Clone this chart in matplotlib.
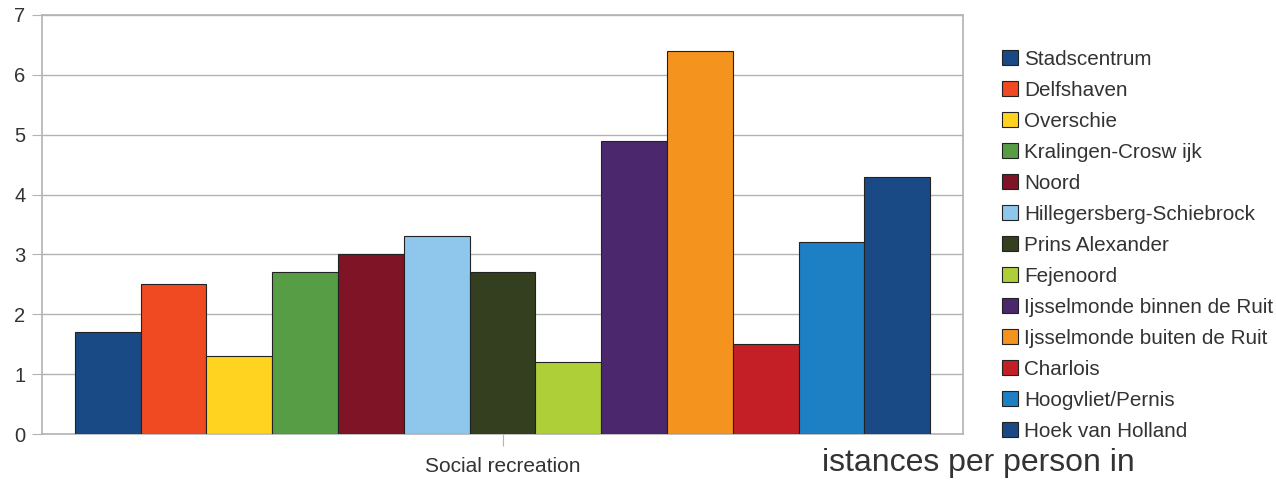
import numpy as np
import matplotlib.pyplot as plt

districts = ['Stadscentrum', 'Delfshaven', 'Overschie', 'Kralingen-Crosw ijk', 'Noord',
             'Hillegersberg-Schiebrock', 'Prins Alexander', 'Fejenoord',
             'Ijsselmonde binnen de Ruit', 'Ijsselmonde buiten de Ruit', 'Charlois',
             'Hoogvliet/Pernis', 'Hoek van Holland']
values = [1.7, 2.5, 1.3, 2.7, 3.0, 3.3, 2.7, 1.2, 4.9, 6.4, 1.5, 3.2, 4.3]
colors = ['#1a4a85', '#f04a23', '#ffd320', '#579d45', '#7e1426', '#8ec6ec',
          '#333f1e', '#aecf38', '#4b286e', '#f5931f', '#c41f26', '#1e80c4', '#1a4a85']
category = 'Social recreation'

plt.rcParams['font.family'] = ['Liberation Sans', 'DejaVu Sans']
txt = '#333333'

fig = plt.figure(figsize=(12.76, 4.8), dpi=100)
ax = fig.add_axes([42/1276, 46/480, 921/1276, 419/480])

w = 1/14
n = len(values)
for i in range(n):
    ax.bar((i - (n-1)/2)*w, values[i], width=w, color=colors[i],
           edgecolor='#222222', linewidth=0.8, label=districts[i], zorder=3)

ax.set_xlim(-0.5, 0.5)
ax.set_ylim(0, 7)
ax.set_yticks(range(8))
ax.yaxis.grid(True, color='#b3b3b3', linewidth=1, zorder=0)
ax.set_xticks([0])
ax.set_xticklabels([category], fontsize=15, color=txt)
ax.tick_params(axis='x', length=8.5, color='#b3b3b3', pad=8)
ax.tick_params(axis='y', length=7, color='#b3b3b3', labelsize=14.5, labelcolor=txt, pad=5)
for s in ax.spines.values():
    s.set_color('#b3b3b3')
    s.set_linewidth(1.2)

ax.legend(loc='upper left', bbox_to_anchor=(1002/1276, 1 - 50/480), bbox_transform=fig.transFigure,
          frameon=False, fontsize=14.9, labelcolor=txt, handlelength=0.75, handleheight=0.75,
          handletextpad=0.33, labelspacing=0.58, borderaxespad=0, borderpad=0)

fig.text(978/1276, 1 - 463/480, 'istances per person in', fontsize=23, color=txt,
         ha='center', va='center')

plt.savefig('out.png')
